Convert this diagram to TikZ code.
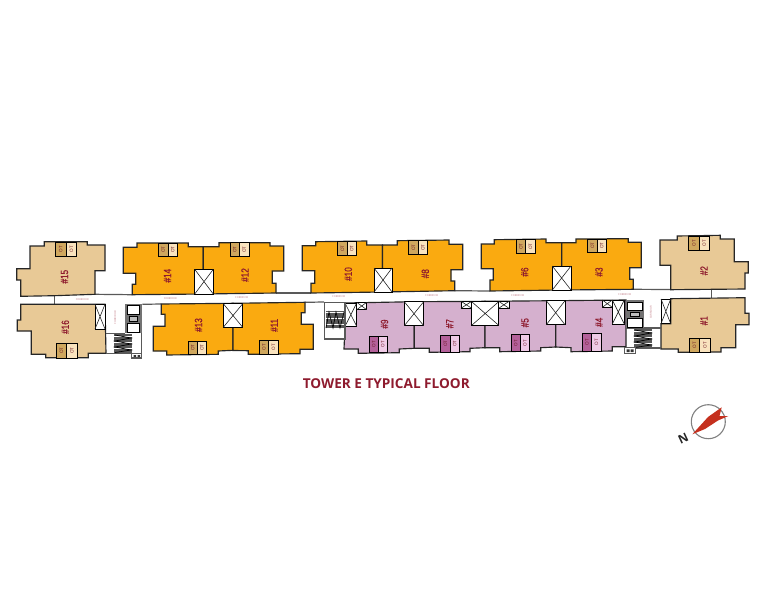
\documentclass[tikz,border=0pt]{standalone}
\usepackage{fontspec}
\setmainfont{Open Sans}
\newfontfamily\tagfont[FakeStretch=0.78,FakeBold=0.6]{Liberation Sans}
\definecolor{tanu}{HTML}{E8C996}
\definecolor{orgu}{HTML}{FAAA10}
\definecolor{lilu}{HTML}{D5B0CE}
\definecolor{otD}{HTML}{CFA75E}
\definecolor{otL}{HTML}{F9E3BE}
\definecolor{otP}{HTML}{B4619A}
\definecolor{otQ}{HTML}{EFCBE6}
\definecolor{lab}{HTML}{8E1B2E}
\definecolor{pinkt}{HTML}{C07A84}
\definecolor{cmpred}{HTML}{C5301E}
\tikzset{
  unit/.style={draw=black!85,line width=1.15pt,line join=miter},
  wall/.style={draw=black!65,line width=1.2pt},
  core/.style={draw=black!65,line width=1.7pt},
  xb/.style={draw=black,line width=1pt,fill=white},
  xl/.style={draw=black!85,line width=0.6pt},
  cell/.style={draw=black,line width=1pt},
  tag/.style={rotate=90,text=lab,font=\tagfont\fontsize{10.5}{10.5}\selectfont,inner sep=0pt},
  ottag/.style={rotate=90,text=lab!75!black,font=\fontsize{4.6}{5}\selectfont,inner sep=0pt},
  tiny/.style={text=pinkt,font=\fontsize{2.6}{3}\selectfont,inner sep=0pt},
  tread/.style={draw=black!65,line width=0.55pt},
  zig/.style={draw=black,line width=0.7pt}
}
\newcommand{\xbox}[5]{%
  \draw[xb] (#2,#3) rectangle (#4,#5);
  \draw[xl] (#2,#3) -- (#4,#5) (#2,#5) -- (#4,#3);
  \coordinate (#1) at ({(#2+#4)/2},{(#3+#5)/2});}
\newcommand{\otcell}[8]{%
  \fill[#7] (#2,#3) rectangle (#4,#6);
  \fill[#8] (#4,#3) rectangle (#5,#6);
  \draw[cell] (#2,#3) rectangle (#5,#6) (#4,#3) -- (#4,#6);
  \node[ottag] (#1a) at ({(#2+#4)/2},{(#3+#6)/2}) {OT};
  \node[ottag] (#1b) at ({(#4+#5)/2},{(#3+#6)/2}) {OT};}
\begin{document}
\begin{tikzpicture}[x=1pt,y=-1pt]
\useasboundingbox (0,0) rectangle (767,594);
% corridor walls
\draw[wall] (95,294.3) -- (132.3,294.7);
\draw[wall] (276,293) -- (311,293);
\draw[wall] (454.7,290.7) -- (490,291);
\draw[wall] (633.3,289.3) -- (670.7,289.5);
\draw[wall] (54.3,295.7) -- (54.3,304.3);
\draw[wall] (711.3,289.5) -- (711.3,298);
\draw[wall] (142.3,304.3) -- (161.3,304);
\draw[wall] (305,302.3) -- (324,302);
% units
\filldraw[unit,fill=tanu] (44.3,241.7) -- (87.3,241.7) -- (87.3,245) -- (105,245) -- (105,270.7) -- (95,270.7) -- (95,294.3) -- (54.3,295.7) -- (20.7,296.3) -- (20.7,280) -- (16.7,280) -- (16.7,268.7) -- (30,268.7) -- (30,246) -- (44.3,246) -- cycle;
\filldraw[unit,fill=tanu] (20.7,304.3) -- (105,304.3) -- (106,353.3) -- (88.3,353.3) -- (88.3,357.7) -- (45.7,357.7) -- (45.7,354.3) -- (31.3,354.3) -- (31.3,331) -- (17.3,331) -- (17.3,320) -- (20.7,320) -- cycle;
\filldraw[unit,fill=orgu] (123.3,247.3) -- (137,247.3) -- (137,243) -- (188.3,243) -- (188.3,246.7) -- (203.3,246.7) -- (203.3,294) -- (132.3,294.7) -- (132.3,284.3) -- (135.7,284.3) -- (135.7,273.3) -- (123.3,273.3) -- cycle;
\filldraw[unit,fill=orgu] (203.3,246.7) -- (219,246.7) -- (219,242.7) -- (270,242.7) -- (270,246) -- (283.7,246) -- (283.7,271) -- (272.3,271) -- (272.3,283.3) -- (276,283.3) -- (276,293) -- (203.3,294) -- cycle;
\filldraw[unit,fill=orgu] (302.3,245.7) -- (315.7,245.7) -- (315.7,241.7) -- (366.7,241) -- (366.7,245) -- (382.5,245) -- (382.5,292) -- (311,293) -- (311,283.3) -- (314.7,283.3) -- (314.7,270.7) -- (302.3,270.7) -- cycle;
\filldraw[unit,fill=orgu] (382.5,245) -- (397.3,245) -- (397.3,240.7) -- (449,240) -- (449,244.3) -- (462.7,244.3) -- (462.7,269.7) -- (451,269.7) -- (451,281) -- (454.7,281) -- (454.7,290.7) -- (382.5,292) -- cycle;
\filldraw[unit,fill=orgu] (481.3,244) -- (494.3,244) -- (494.3,239.7) -- (546,239) -- (546,242.7) -- (561.7,242.7) -- (561.7,290) -- (490,291) -- (490,280) -- (493.3,280) -- (493.3,268.7) -- (481.3,268.7) -- cycle;
\filldraw[unit,fill=orgu] (561.7,242.7) -- (576,242.7) -- (576,239) -- (628.3,238.7) -- (628.3,242.3) -- (641.3,242.3) -- (641.3,267.7) -- (629.7,267.7) -- (629.7,279.3) -- (633.3,279.3) -- (633.3,289.3) -- (561.7,290) -- cycle;
\filldraw[unit,fill=tanu] (660,240) -- (677.3,240) -- (677.3,236) -- (720.3,235.3) -- (720.3,239) -- (734.3,239) -- (734.3,261.7) -- (748.3,261.7) -- (748.3,273) -- (745,273) -- (745,289) -- (670.7,289.7) -- (670.7,265.3) -- (660,265.3) -- cycle;
\filldraw[unit,fill=tanu] (670.7,298.7) -- (745,297.7) -- (745,313.3) -- (749,313.3) -- (749,324.7) -- (735.7,324.7) -- (735.7,347.7) -- (721,347.7) -- (721,352) -- (678.3,352.3) -- (678.3,349) -- (661,349) -- (661,323.7) -- (670.7,323.7) -- cycle;
\filldraw[unit,fill=orgu] (161.3,304) -- (233,303.3) -- (233,350.3) -- (218.3,351) -- (218.3,354.3) -- (166.7,355) -- (166.7,351) -- (153.3,351) -- (153.3,326.3) -- (165,326.3) -- (165,314.3) -- (161.3,314.3) -- cycle;
\filldraw[unit,fill=orgu] (233,303.3) -- (305,302.3) -- (305,312.7) -- (301.3,312.7) -- (301.3,324.3) -- (313.3,324.3) -- (313.3,349.3) -- (300,349.3) -- (300,353.7) -- (248.3,354.3) -- (248.3,350.7) -- (233,350.5) -- cycle;
\filldraw[unit,fill=lilu] (345,326.5) -- (345,303) -- (414.3,301.7) -- (414.3,348.3) -- (399.3,349) -- (399.3,352.7) -- (358.3,353.3) -- (358.3,349) -- (344,349) -- cycle;
\filldraw[unit,fill=lilu] (414.3,301.7) -- (485,301.3) -- (485,347.7) -- (470,348.3) -- (470,351.7) -- (429.3,352.3) -- (429.3,348.3) -- (414.3,348.3) -- cycle;
\filldraw[unit,fill=lilu] (485,301.3) -- (555.7,300.7) -- (555.7,347) -- (540.7,347.7) -- (540.7,351) -- (499.7,351.7) -- (499.7,347.7) -- (485,347.7) -- cycle;
\filldraw[unit,fill=lilu] (555.7,300.7) -- (626,300) -- (626,346.7) -- (612.3,346.7) -- (612.3,351) -- (571,351.7) -- (571,347.7) -- (555.7,347) -- cycle;
% shafts
\xbox{s1}{95}{304.3}{105}{329}
\xbox{s2}{194.7}{269.3}{213.3}{294}
\xbox{s3}{374}{268}{392}{292}
\xbox{s4}{552.3}{266}{571}{290}
\xbox{s5}{223.3}{303.7}{242.7}{327.3}
\xbox{s6}{345}{303}{356.7}{326.3}
\xbox{s7}{356.7}{302.3}{366.7}{309.7}
\xbox{s8}{404.3}{301.7}{423.7}{325.7}
\xbox{s9}{461}{301.3}{471.7}{308.3}
\xbox{s10}{471.7}{301.7}{498.7}{325.3}
\xbox{s11}{498.7}{301.3}{509}{308.3}
\xbox{s12}{546.3}{300.7}{565}{324.7}
\xbox{s13}{602.3}{300}{612.3}{307.3}
\xbox{s14}{612.3}{300}{624.3}{324}
\xbox{s15}{661}{299}{670.7}{323.7}
% utility cupboards
\otcell{o15}{55.3}{242}{66.3}{76.7}{256.3}{otD}{otL}
\otcell{o16}{56.3}{343.7}{66.7}{77.3}{358}{otD}{otL}
\otcell{o14}{158.7}{243}{168}{177.7}{256.7}{otD}{otL}
\otcell{o13}{188.3}{341}{197.3}{206.7}{354.3}{otD}{otL}
\otcell{o12}{230}{242.7}{239.3}{249}{256.3}{otD}{otL}
\otcell{o11}{259.3}{340.7}{268.7}{278.3}{354}{otD}{otL}
\otcell{o10}{337.7}{241.7}{347}{356.3}{255.3}{otD}{otL}
\otcell{o9}{369}{336}{378.3}{387.3}{352.7}{otP}{otQ}
\otcell{o8}{408.7}{240.7}{418.3}{427.7}{254.3}{otD}{otL}
\otcell{o7}{440.7}{335.3}{450}{459.3}{352.3}{otP}{otQ}
\otcell{o6}{516.3}{239.7}{525.7}{535}{253.3}{otD}{otL}
\otcell{o5}{511}{334.3}{520.3}{529.7}{351.7}{otP}{otQ}
\otcell{o3}{587.7}{239}{597}{606.3}{252.7}{otD}{otL}
\otcell{o4}{582}{333.7}{591.7}{601}{351}{otP}{otQ}
\otcell{o2}{688.7}{236}{699.3}{709.3}{250.3}{otD}{otL}
\otcell{o1}{689.3}{338}{699.7}{710}{352}{otD}{otL}
% unit numbers
\node[tag] (n15) at (64.5,276.7) {\#15};
\node[tag] (n16) at (65.3,327) {\#16};
\node[tag] (n14) at (167.5,275.7) {\#14};
\node[tag] (n13) at (198.5,325) {\#13};
\node[tag] (n12) at (245,275) {\#12};
\node[tag] (n11) at (274.3,325.3) {\#11};
\node[tag] (n10) at (348.3,274) {\#10};
\node[tag] (n9) at (384.5,324) {\#9};
\node[tag] (n8) at (425.3,273.7) {\#8};
\node[tag] (n7) at (449.7,323.7) {\#7};
\node[tag] (n6) at (524.7,272) {\#6};
\node[tag] (n5) at (525,322.7) {\#5};
\node[tag] (n3) at (599,272) {\#3};
\node[tag] (n4) at (599,322.3) {\#4};
\node[tag] (n2) at (704,270.7) {\#2};
\node[tag] (n1) at (704,320.7) {\#1};
% left core
\draw[wall] (106,333.7) -- (125,333.7) (106,353.5) -- (132,353.5);
\fill[black!55] (125,303.5) rectangle (142,333);
\draw[core] (141.6,333) -- (141.6,358);
\draw[cell,fill=white] (127.3,305.5) rectangle (139.3,314.3);
\draw[cell,fill=white] (127.3,323.3) rectangle (139.3,332.3);
\draw[black,line width=0.8pt,fill=black!25] (129,316.5) rectangle (137.5,321);
\fill[white] (114,334) rectangle (132,353);
\foreach \yy in {334.5,335.7,...,352.5} \draw[tread] (114,\yy) -- (132,\yy);
\draw[zig] (115,335) -- (131,338) -- (115,341) -- (131,344) -- (115,347) -- (131,350) -- (115,352.5);
\draw[core,line width=1.2pt,fill=white] (131.7,353.7) rectangle (141.6,358);
\fill[black!80] (133.5,355) rectangle (136,357) (137.5,355) rectangle (140,357);
% middle core
\draw[core,fill=white] (324.5,302.5) rectangle (345,339);
\foreach \yy in {311.7,312.9,...,328.3} \draw[tread] (325.5,\yy) -- (344.5,\yy);
\draw[zig] (326,328) -- (329,312) -- (333,328) -- (336,312) -- (340,328) -- (344,312);
% right core
\draw[wall] (626,328) -- (661,328) (635,348) -- (661,348);
\fill[black!55] (626,300.2) rectangle (644,328);
\draw[cell,fill=white] (627.5,302.5) rectangle (642.5,310.3);
\draw[cell,fill=white] (627.5,318.3) rectangle (642.5,327);
\draw[black,line width=0.8pt,fill=black!25] (630,312.3) rectangle (639,316.5);
\fill[white] (634.3,329) rectangle (651.7,347.5);
\foreach \yy in {329.5,330.7,...,347.5} \draw[tread] (634.3,\yy) -- (651.7,\yy);
\draw[zig] (635,330) -- (651,333) -- (635,336) -- (651,339) -- (635,342) -- (651,345) -- (635,347.5);
\draw[core,line width=1.2pt,fill=white] (624.5,347.7) rectangle (635.7,353.5);
\fill[black!80] (626.5,349.3) rectangle (629.5,352) (630.7,349.3) rectangle (633.7,352);
% corridor captions
\node[tiny] (c1) at (82.3,299.7) {CORRIDOR};
\node[tiny] (c2) at (170.3,298.7) {CORRIDOR};
\node[tiny] (c3) at (241.7,297.7) {CORRIDOR};
\node[tiny] (c4) at (338.7,297) {CORRIDOR};
\node[tiny] (c5) at (431.7,296) {CORRIDOR};
\node[tiny] (c6) at (517.7,295.3) {CORRIDOR};
\node[tiny] (c7) at (624.7,294.7) {CORRIDOR};
\node[tiny,rotate=90] (c8) at (115.3,317.7) {CORRIDOR};
\node[tiny,rotate=90] (c9) at (651,312.3) {CORRIDOR};
% title
\node[text=lab,font=\fontsize{13.6}{16}\selectfont\bfseries,inner sep=0pt] (title) at (386.3,384) {TOWER E TYPICAL FLOOR};
% compass
\draw[black!50,line width=1.1pt] (708.3,421.7) circle (17);
\fill[cmpred] (692.3,434.3) -- (708,417) -- (721.7,407.3) -- (719.5,416) -- (728.3,416) -- (718,420.5) -- (705,429) -- cycle;
\node[rotate=25,text=black!85,font=\fontsize{12}{12}\selectfont\bfseries,inner sep=0pt] (north) at (683.3,438.3) {N};
\end{tikzpicture}
\end{document}
